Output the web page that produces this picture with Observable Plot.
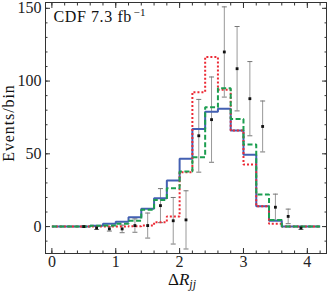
<!DOCTYPE html>
<html><head><meta charset="utf-8">
<script src="https://cdn.jsdelivr.net/npm/d3@7"></script>
<script src="https://cdn.jsdelivr.net/npm/@observablehq/plot@0.6"></script>
<style>
html,body{margin:0;padding:0;background:#fff;}
</style>
</head><body><div id="chart"></div>
<script>
// Histogram bin edges (width 0.2) and per-bin expected counts
const binEdges = [0,0.2,0.4,0.6,0.8,1.0,1.2,1.4,1.6,1.8,2.0,2.2,2.4,2.6,2.8,3.0,3.2,3.4,3.6,3.8,4.0,4.2];
const blueSolid   = [0,0,0,0.5,2,3.4,6.4,12.2,19.5,31.6,46.6,67,79,81,66,49.3,14,4,0,0,0];
const redDotted   = [0,0,0,0,0,0,0.3,0.7,3,6.9,37.4,92.4,116.5,94,66,42.7,14,2,0,0,0];
const greenDashed = [0,0,0,0.5,0.7,2,4,11.5,18.3,26.4,37.8,47.7,82,95,74,56.4,22,4.6,0,0,0];
// Data points
const dataX   = [0.5,0.7,0.9,1.1,1.3,1.5,1.7,1.9,2.1,2.3,2.5,2.7,2.9,3.1,3.3,3.5,3.7,3.9];
const dataY   = [0,-1,-1.6,-1.6,0.7,0.7,14.4,4,4.6,62.4,73.5,120,108.5,87.9,68.8,13.3,7,-1];
const dataErr = [0.5,1,1.5,2.6,4.6,8.6,11.7,16,20,25,29.3,31,29,25.5,17.5,9,5,1];
// Ticks
const xTicks = [0,1,2,3,4];
const yTicks = [0,50,100,150];
const xMinor = d3.range(0, 4.3, 0.2).map(v => +v.toFixed(1));
const yMinor = d3.range(-10, 151, 10);

const toSteps = vals => binEdges.map((x, i) => ({x, y: vals[Math.min(i, vals.length - 1)]}));
const points = dataX.map((x, i) => ({x, y: dataY[i], lo: dataY[i] - dataErr[i], hi: dataY[i] + dataErr[i]}));

const capSymbol = {draw(ctx) { ctx.moveTo(-2.5, 0); ctx.lineTo(2.5, 0); }};
const axisColor = "#333";
const font = "'Liberation Serif', 'Times New Roman', serif";

const tickAxes = [
  Plot.axisX(xTicks, {anchor: "bottom", tickSize: 5, dy: -5, fill: "none", stroke: axisColor}),
  Plot.axisX(xMinor, {anchor: "bottom", tickSize: 2.5, dy: -2.5, fill: "none", stroke: axisColor}),
  Plot.axisX(xTicks, {anchor: "top", tickSize: 5, dy: 5, fill: "none", stroke: axisColor}),
  Plot.axisX(xMinor, {anchor: "top", tickSize: 2.5, dy: 2.5, fill: "none", stroke: axisColor}),
  Plot.axisY(yTicks, {anchor: "left", tickSize: 5, dx: 5, fill: "none", stroke: axisColor}),
  Plot.axisY(yMinor, {anchor: "left", tickSize: 2.5, dx: 2.5, fill: "none", stroke: axisColor}),
  Plot.axisY(yTicks, {anchor: "right", tickSize: 5, dx: -5, fill: "none", stroke: axisColor}),
  Plot.axisY(yMinor, {anchor: "right", tickSize: 2.5, dx: -2.5, fill: "none", stroke: axisColor})
];

const lineOpts = {x: "x", y: "y", curve: "step-after", strokeWidth: 2, strokeLinecap: "butt", strokeLinejoin: "miter"};

const chart = Plot.plot({
  width: 327, height: 292,
  marginLeft: 45, marginRight: 1, marginTop: 2, marginBottom: 39,
  style: {fontFamily: font, fontSize: "16px", background: "white", color: "#222", overflow: "visible"},
  x: {domain: [-0.1, 4.3]},
  y: {domain: [-18.5, 154]},
  marks: [
    Plot.ruleX(points, {x: "x", y1: "lo", y2: "hi", stroke: "#999", strokeWidth: 1}),
    Plot.dot(points, {x: "x", y: "lo", symbol: capSymbol, stroke: "#777", strokeWidth: 1}),
    Plot.dot(points, {x: "x", y: "hi", symbol: capSymbol, stroke: "#777", strokeWidth: 1}),
    Plot.line(toSteps(blueSolid), {...lineOpts, stroke: "#4360b2"}),
    Plot.line(toSteps(redDotted), {...lineOpts, stroke: "#ec2a35", strokeDasharray: "2,2"}),
    Plot.line(toSteps(greenDashed), {...lineOpts, stroke: "#1c9e50", strokeDasharray: "5,2.5"}),
    Plot.dot(points, {x: "x", y: "y", symbol: "square", r: 1.6, fill: "#111"}),
    Plot.frame({stroke: axisColor, strokeWidth: 1}),
    ...tickAxes,
    Plot.axisX(xTicks, {anchor: "bottom", tickSize: 0, tickPadding: 2, label: null, fontSize: 16, fill: "#222"}),
    Plot.axisY(yTicks, {anchor: "left", tickSize: 0, tickPadding: 4, label: null, fontSize: 16, fill: "#222"}),
    Plot.text(["CDF 7.3 fb"], {frameAnchor: "top-left", dx: 8, dy: 19.7, textAnchor: "start", lineAnchor: "bottom", fontSize: 16, fill: "#111"}),
    Plot.text(["ΔRjj"], {frameAnchor: "bottom", dx: -4, dy: 31, textAnchor: "middle", lineAnchor: "bottom", fontSize: 17, fill: "#111"}),
    Plot.text(["Events/bin"], {frameAnchor: "left", rotate: -90, dx: -32, dy: -5, textAnchor: "middle", lineAnchor: "bottom", fontSize: 16, fill: "#111"})
  ]
});

const svg = d3.select(chart);
svg.selectAll("text").filter(function() { return this.textContent === "CDF 7.3 fb"; }).each(function() {
  const t = d3.select(this);
  t.style("letter-spacing", "0.6px");
  t.append("tspan").attr("dx", "1.5").attr("dy", "-6").attr("font-size", "11").style("letter-spacing", "0.3px").text("−1");
});
svg.selectAll("text").filter(function() { return this.textContent === "Events/bin"; }).style("letter-spacing", "0.9px");
svg.selectAll("text").filter(function() { return this.textContent === "ΔRjj"; }).each(function() {
  const t = d3.select(this);
  t.text(null);
  t.append("tspan").text("Δ");
  t.append("tspan").attr("font-style", "italic").text("R");
  t.append("tspan").attr("font-style", "italic").attr("font-size", "12").attr("dy", "3.5").text("jj");
});
document.getElementById("chart").appendChild(chart);
</script>
</body></html>
